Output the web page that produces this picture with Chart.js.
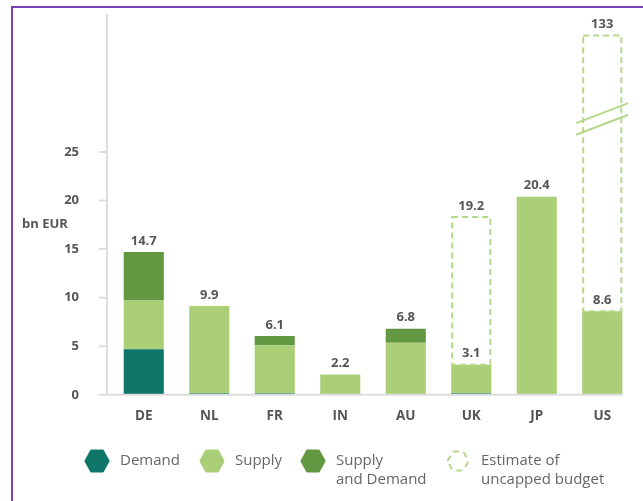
<!DOCTYPE html>
<html>
<head>
<meta charset="utf-8">
<script src="https://cdn.jsdelivr.net/npm/chart.js@4.4.1/dist/chart.umd.min.js"></script>
<style>
    html, body { margin: 0; padding: 0; background: #fff; }
    #wrap { position: relative; width: 643px; height: 501px; overflow: hidden; }
    #frame {
        position: absolute; left: 11px; top: 6px; width: 700px; height: 600px;
        border-left: 2.5px solid #7b3fb5; border-top: 2.5px solid #7b3fb5;
        pointer-events: none;
    }
    canvas { position: absolute; left: 0; top: 0; }
</style>
</head>
<body>
<div id="wrap">
    <canvas id="budgetChart" width="643" height="501"></canvas>
    <div id="frame"></div>
</div>
<script>
const countries = ["DE", "NL", "FR", "IN", "AU", "UK", "JP", "US"];
const demand = [4.7, 0.15, 0.15, 0, 0, 0.15, 0, 0];
const supply = [5.0, 9.0, 4.95, 2.1, 5.37, 2.95, 20.4, 8.6];
const supplyAndDemand = [5.0, 0, 0.95, 0, 1.43, 0, 0, 0];
const totalLabels = ["14.7", "9.9", "6.1", "2.2", "6.8", "3.1", "20.4", "8.6"];
// drawn height of the dashed "uncapped" box (US is on a broken axis)
const uncappedTop = [null, null, null, null, null, 18.3, null, 37];
const uncappedLabels = ["", "", "", "", "", "19.2", "", "133"];
const yTicks = [0, 5, 10, 15, 20, 25];

const COLOR_DEMAND = "#10766a";
const COLOR_SUPPLY = "#aacf77";
const COLOR_BOTH = "#629841";
const COLOR_ESTIMATE = "#b5d98a";
const COLOR_AXIS = "#dddddd";
const COLOR_TEXT = "#555555";

const stackTotals = countries.map((c, i) => demand[i] + supply[i] + supplyAndDemand[i]);
const uncappedRest = uncappedTop.map((v, i) => v == null ? null : v - stackTotals[i]);

function hexagon(ctx, cx, cy, w, h) {
    ctx.beginPath();
    ctx.moveTo(cx - w / 2, cy);
    ctx.lineTo(cx - w / 4, cy - h / 2);
    ctx.lineTo(cx + w / 4, cy - h / 2);
    ctx.lineTo(cx + w / 2, cy);
    ctx.lineTo(cx + w / 4, cy + h / 2);
    ctx.lineTo(cx - w / 4, cy + h / 2);
    ctx.closePath();
}

const decorations = {
    id: "decorations",
    afterDatasetsDraw(chart) {
        const ctx = chart.ctx;
        const area = chart.chartArea;
        const y = chart.scales.y;

        // axes
        ctx.save();
        ctx.strokeStyle = COLOR_AXIS;
        ctx.lineWidth = 2;
        ctx.beginPath();
        ctx.moveTo(area.left - 4, area.top - 2);
        ctx.lineTo(area.left - 4, area.bottom);
        ctx.moveTo(area.left - 12, area.bottom);
        ctx.lineTo(area.right - 12, area.bottom);
        yTicks.forEach(t => {
            const py = y.getPixelForValue(t);
            ctx.moveTo(area.left - 12, py);
            ctx.lineTo(area.left - 4, py);
        });
        ctx.stroke();

        // axis unit
        ctx.fillStyle = COLOR_TEXT;
        ctx.font = "bold 13px 'Open Sans'";
        ctx.textAlign = "left";
        ctx.textBaseline = "middle";
        ctx.fillText("bn EUR", 22, y.getPixelForValue(17.6));

        // dashed uncapped boxes
        const estMeta = chart.getDatasetMeta(3);
        ctx.setLineDash([6, 4]);
        ctx.strokeStyle = COLOR_ESTIMATE;
        ctx.lineWidth = 2;
        estMeta.data.forEach((bar, i) => {
            if (uncappedRest[i] == null) return;
            const left = bar.x - bar.width / 2 + 1;
            const right = bar.x + bar.width / 2 - 1;
            ctx.beginPath();
            ctx.rect(left, bar.y, right - left, bar.base - bar.y);
            ctx.stroke();
        });
        ctx.setLineDash([]);

        // axis break on US
        const us = estMeta.data[countries.indexOf("US")];
        ctx.strokeStyle = COLOR_ESTIMATE;
        ctx.lineWidth = 2;
        [29.0, 27.8].forEach(v => {
            const py = y.getPixelForValue(v);
            ctx.beginPath();
            ctx.moveTo(us.x - us.width / 2 - 6, py + 10);
            ctx.lineTo(us.x + us.width / 2 + 6, py - 10);
            ctx.stroke();
        });

        // value labels
        ctx.fillStyle = COLOR_TEXT;
        ctx.font = "bold 13px 'Open Sans'";
        ctx.textAlign = "center";
        ctx.textBaseline = "middle";
        const baseMeta = chart.getDatasetMeta(0);
        baseMeta.data.forEach((bar, i) => {
            ctx.fillText(totalLabels[i], bar.x, y.getPixelForValue(stackTotals[i]) - 11);
            if (uncappedTop[i] != null) {
                ctx.fillText(uncappedLabels[i], bar.x, y.getPixelForValue(uncappedTop[i]) - 11);
            }
        });

        // legend
        const items = [
            { x: 97, color: COLOR_DEMAND, text: ["Demand"] },
            { x: 212, color: COLOR_SUPPLY, text: ["Supply"] },
            { x: 313, color: COLOR_BOTH, text: ["Supply", "and Demand"] },
            { x: 458, color: null, text: ["Estimate of", "uncapped budget"] }
        ];
        const ly = 461;
        ctx.font = "15px 'Open Sans'";
        ctx.textAlign = "left";
        items.forEach(item => {
            ctx.lineJoin = "round";
            if (item.color) {
                hexagon(ctx, item.x, ly, 22, 20);
                ctx.fillStyle = item.color;
                ctx.strokeStyle = item.color;
                ctx.lineWidth = 3;
                ctx.fill();
                ctx.stroke();
            } else {
                hexagon(ctx, item.x, ly, 21, 19);
                ctx.strokeStyle = COLOR_ESTIMATE;
                ctx.lineWidth = 2;
                ctx.setLineDash([6, 5]);
                ctx.stroke();
                ctx.setLineDash([]);
            }
            ctx.fillStyle = "#666666";
            item.text.forEach((line, k) => {
                ctx.fillText(line, item.x + 23, ly + k * 19);
            });
        });
        ctx.restore();
    }
};

new Chart(document.getElementById("budgetChart"), {
    type: "bar",
    data: {
        labels: countries,
        datasets: [
            { label: "Demand", data: demand, backgroundColor: COLOR_DEMAND },
            { label: "Supply", data: supply, backgroundColor: COLOR_SUPPLY },
            { label: "Supply and Demand", data: supplyAndDemand, backgroundColor: COLOR_BOTH },
            { label: "Estimate of uncapped budget", data: uncappedRest, backgroundColor: "rgba(0,0,0,0)" }
        ]
    },
    options: {
        responsive: false,
        animation: false,
        barPercentage: 0.612,
        categoryPercentage: 1,
        layout: {
            padding: { top: 16, right: 8, bottom: 72, left: 0 }
        },
        plugins: {
            legend: { display: false },
            tooltip: { enabled: false }
        },
        scales: {
            x: {
                stacked: true,
                grid: { display: false },
                border: { display: false },
                ticks: {
                    color: COLOR_TEXT,
                    font: { family: "'Open Sans'", size: 13.5, weight: "bold" },
                    padding: 5
                }
            },
            y: {
                stacked: true,
                min: 0,
                max: 39,
                afterFit(scale) {
                    scale.width = 111;
                    scale.paddingTop = 0;
                    scale.paddingBottom = 0;
                },
                grid: { display: false },
                border: { display: false },
                ticks: {
                    stepSize: 5,
                    padding: 24,
                    color: COLOR_TEXT,
                    font: { family: "'Open Sans'", size: 13, weight: "bold" },
                    callback: value => yTicks.includes(value) ? value : ""
                }
            }
        }
    },
    plugins: [decorations]
});
</script>
</body>
</html>
